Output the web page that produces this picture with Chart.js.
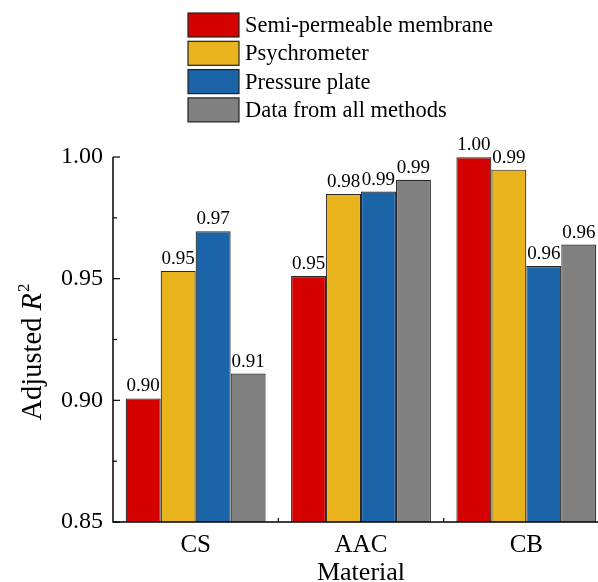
<!DOCTYPE html>
<html>
<head>
<meta charset="utf-8">
<script src="https://cdn.jsdelivr.net/npm/chart.js@4.4.1/dist/chart.umd.min.js"></script>
<style>
  html, body { margin: 0; padding: 0; background: #fff; overflow: hidden; width: 598px; height: 582px; }
  #wrap { position: absolute; left: 0; top: 0; width: 612px; height: 582px; }
</style>
</head>
<body>
<div id="wrap"><canvas id="c"></canvas></div>
<script>
// ---- data ----
const categories = ['CS', 'AAC', 'CB'];
const seriesNames = ['Semi-permeable membrane', 'Psychrometer', 'Pressure plate', 'Data from all methods'];
const semiPermeable = [0.9008, 0.9511, 0.9999];
const psychrometer  = [0.9532, 0.9848, 0.9948];
const pressurePlate = [0.9695, 0.9858, 0.9552];
const allMethods    = [0.9110, 0.9906, 0.9640];
const yTicks = [0.85, 0.90, 0.95, 1.00];
const yTitle = ['Adjusted ', 'R', '2'];
const xTitle = 'Material';

const colors = ['#D50000', '#E8B31C', '#1B64A7', '#808080'];
const FONT = '"Liberation Serif", "Times New Roman", serif';

const seriesValues = [semiPermeable, psychrometer, pressurePlate, allMethods];

const decorPlugin = {
  id: 'decor',
  afterDraw(chart) {
    const ctx = chart.ctx;
    const ca = chart.chartArea;
    const ys = chart.scales.y, xs = chart.scales.x;
    ctx.save();
    // axes lines
    ctx.strokeStyle = '#000';
    ctx.lineWidth = 1.5;
    ctx.beginPath();
    ctx.moveTo(ca.left, ca.top);
    ctx.lineTo(ca.left, ca.bottom);
    ctx.lineTo(ca.right, ca.bottom);
    ctx.stroke();
    // y ticks (inward), major + minor
    ctx.lineWidth = 1.2;
    yTicks.forEach((v, i) => {
      const y = ys.getPixelForValue(v);
      ctx.beginPath(); ctx.moveTo(ca.left, y); ctx.lineTo(ca.left + 7, y); ctx.stroke();
      if (i < yTicks.length - 1) {
        const ym = ys.getPixelForValue((v + yTicks[i + 1]) / 2);
        ctx.beginPath(); ctx.moveTo(ca.left, ym); ctx.lineTo(ca.left + 4, ym); ctx.stroke();
      }
    });
    // x minor ticks between categories
    for (let i = 0; i < categories.length - 1; i++) {
      const x = (xs.getPixelForValue(i) + xs.getPixelForValue(i + 1)) / 2;
      ctx.beginPath(); ctx.moveTo(x, ca.bottom); ctx.lineTo(x, ca.bottom - 4); ctx.stroke();
    }
    // data labels
    ctx.fillStyle = '#000';
    ctx.font = '19px ' + FONT;
    ctx.textAlign = 'center';
    ctx.textBaseline = 'alphabetic';
    chart.data.datasets.forEach((ds, di) => {
      const meta = chart.getDatasetMeta(di);
      meta.data.forEach((bar, bi) => {
        ctx.fillText(ds.data[bi].toFixed(2), bar.x, bar.y - 7);
      });
    });
    // x title
    ctx.font = '26px ' + FONT;
    ctx.fillText(xTitle, (ca.left + ca.right) / 2, 580);
    // y title (rotated, mixed styles)
    ctx.save();
    ctx.translate(41, (ca.top + ca.bottom) / 2 + 13);
    ctx.rotate(-Math.PI / 2);
    ctx.textAlign = 'left';
    const f1 = '28.5px ' + FONT, f2 = 'italic 28.5px ' + FONT, f3 = '17px ' + FONT;
    ctx.font = f1; const w1 = ctx.measureText(yTitle[0]).width;
    ctx.font = f2; const w2 = ctx.measureText(yTitle[1]).width;
    ctx.font = f3; const w3 = ctx.measureText(yTitle[2]).width;
    let x0 = -(w1 + w2 + w3) / 2;
    ctx.font = f1; ctx.fillText(yTitle[0], x0, 0); x0 += w1;
    ctx.font = f2; ctx.fillText(yTitle[1], x0, 0); x0 += w2 + 1;
    ctx.font = f3; ctx.fillText(yTitle[2], x0, -12);
    ctx.restore();
    // legend
    const lx = 188, lw = 51, lh = 24, ly0 = 13, step = 28.3;
    chart.data.datasets.forEach((ds, di) => {
      const y = ly0 + di * step;
      ctx.fillStyle = ds.backgroundColor;
      ctx.fillRect(lx, y, lw, lh);
      ctx.strokeStyle = '#222';
      ctx.lineWidth = 1.2;
      ctx.strokeRect(lx, y, lw, lh);
      ctx.fillStyle = '#000';
      ctx.font = '22.5px ' + FONT;
      ctx.textAlign = 'left';
      ctx.textBaseline = 'middle';
      ctx.fillText(ds.label, lx + lw + 6, y + lh / 2 + 1);
    });
    ctx.restore();
  }
};

new Chart(document.getElementById('c'), {
  type: 'bar',
  data: {
    labels: categories,
    datasets: seriesNames.map((name, i) => ({
      label: name,
      data: seriesValues[i],
      backgroundColor: colors[i],
      borderColor: '#2a2a2a',
      borderWidth: 1.2,
      categoryPercentage: 0.846,
      barPercentage: 1.0
    }))
  },
  options: {
    responsive: true,
    maintainAspectRatio: false,
    animation: false,
    devicePixelRatio: 1,
    layout: { padding: { top: 157, right: 3, left: 0, bottom: 0 } },
    plugins: { legend: { display: false }, tooltip: { enabled: false } },
    scales: {
      x: {
        type: 'category',
        offset: true,
        grid: { display: false, drawTicks: false },
        border: { display: false },
        ticks: { color: '#000', font: { family: FONT, size: 25 }, padding: 8, maxRotation: 0 },
        afterFit(s) { s.height = 60; }
      },
      y: {
        min: 0.85,
        max: 1.0,
        grid: { display: false, drawTicks: false },
        border: { display: false },
        ticks: {
          color: '#000',
          font: { family: FONT, size: 24 },
          padding: 10,
          stepSize: 0.05,
          callback: (v) => Number(v).toFixed(2)
        },
        afterBuildTicks(s) { s.ticks = yTicks.map(v => ({ value: v })); },
        afterFit(s) { s.width = 113; }
      }
    }
  },
  plugins: [decorPlugin]
});
</script>
</body>
</html>
